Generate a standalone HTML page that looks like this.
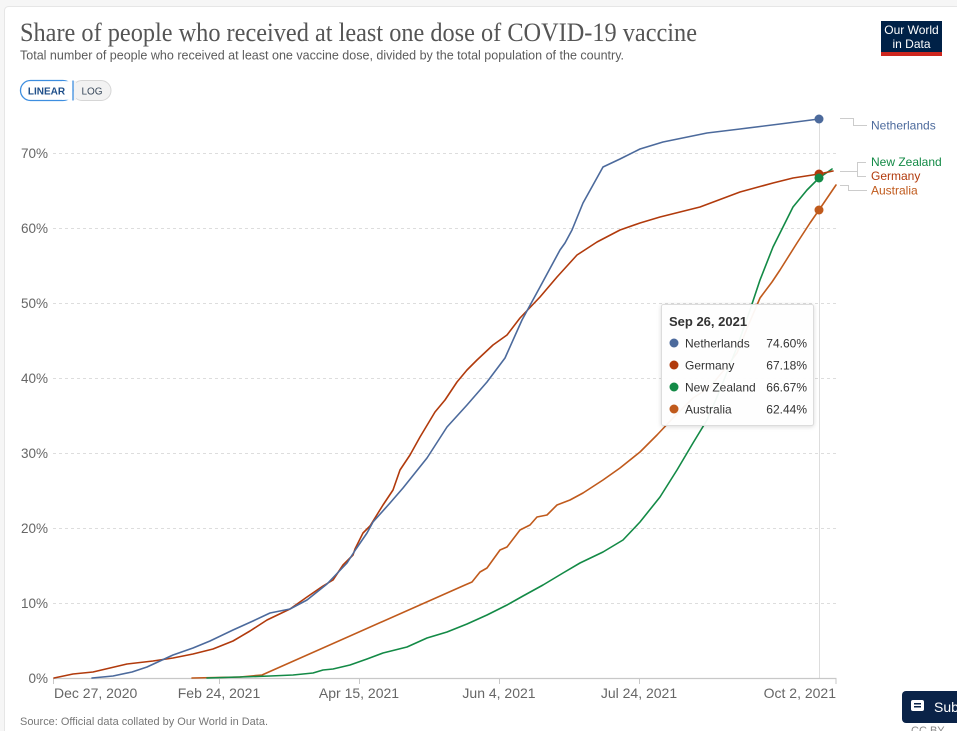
<!DOCTYPE html>
<html>
<head>
<meta charset="utf-8">
<style>
  html, body { margin:0; padding:0; background:#f6f6f6; }
  body { width:957px; height:731px; overflow:hidden; position:relative; }
  svg { position:absolute; left:0; top:0; }
  text { font-family:"Liberation Sans", sans-serif; }
</style>
</head>
<body>
<svg width="957" height="731" viewBox="0 0 957 731" xmlns="http://www.w3.org/2000/svg">
  <!-- card -->
  <rect x="0" y="0" width="957" height="731" fill="#f6f6f6"/>
  <rect x="4.5" y="6.5" width="960" height="730" rx="4" fill="#ffffff" stroke="#e6e6e6"/>

  <!-- title -->
  <text x="20" y="41" font-family="Liberation Serif, serif" font-size="26" fill="#555" textLength="677" lengthAdjust="spacingAndGlyphs" style="font-family:'Liberation Serif',serif">Share of people who received at least one dose of COVID-19 vaccine</text>
  <text x="20" y="59.5" font-size="13" fill="#5b5b5b" textLength="604" lengthAdjust="spacingAndGlyphs">Total number of people who received at least one vaccine dose, divided by the total population of the country.</text>

  <!-- linear/log toggle -->
  <rect x="72" y="80.5" width="39" height="20" rx="10" fill="#f2f2f2" stroke="#d6d6d6"/>
  <rect x="66" y="81" width="10" height="19" fill="#f2f2f2"/>
  <rect x="20.5" y="80.5" width="52.5" height="20" rx="10" fill="#ffffff" stroke="#3d8ee0" stroke-width="1.3"/>
  <rect x="62" y="81.2" width="11" height="18.6" fill="#ffffff"/>
  <line x1="73" y1="80.5" x2="73" y2="100.5" stroke="#3d8ee0" stroke-width="1.3"/>
  <text x="46.5" y="94.5" font-size="10" font-weight="bold" fill="#1d4e89" text-anchor="middle">LINEAR</text>
  <text x="92" y="94.5" font-size="10" fill="#3a4a5c" text-anchor="middle">LOG</text>

  <!-- logo -->
  <rect x="881" y="21" width="61" height="35" fill="#002147"/>
  <rect x="881" y="52" width="61" height="4" fill="#ce261e"/>
  <text x="911.5" y="34" font-size="12" fill="#ffffff" text-anchor="middle">Our World</text>
  <text x="911.5" y="48" font-size="12" fill="#ffffff" text-anchor="middle">in Data</text>

  <!-- gridlines -->
  <g stroke="#dddddd" stroke-width="1" stroke-dasharray="3,3">
    <line x1="53" y1="153.5" x2="836" y2="153.5"/>
    <line x1="53" y1="228.5" x2="836" y2="228.5"/>
    <line x1="53" y1="303.5" x2="836" y2="303.5"/>
    <line x1="53" y1="378.5" x2="836" y2="378.5"/>
    <line x1="53" y1="453.5" x2="836" y2="453.5"/>
    <line x1="53" y1="528.5" x2="836" y2="528.5"/>
    <line x1="53" y1="603.5" x2="836" y2="603.5"/>
  </g>

  <!-- y labels -->
  <g font-size="13.5" fill="#666" text-anchor="end">
    <text x="48" y="158">70%</text>
    <text x="48" y="233">60%</text>
    <text x="48" y="308">50%</text>
    <text x="48" y="383">40%</text>
    <text x="48" y="458">30%</text>
    <text x="48" y="533">20%</text>
    <text x="48" y="608">10%</text>
    <text x="48" y="683">0%</text>
  </g>

  <!-- hover line -->
  <line x1="819.5" y1="119" x2="819.5" y2="678" stroke="#dddddd" stroke-width="1"/>

  <!-- x axis -->
  <line x1="53" y1="678.5" x2="836.5" y2="678.5" stroke="#c8c8c8" stroke-width="1.2"/>
  <g stroke="#c8c8c8" stroke-width="1">
    <line x1="53.5" y1="678" x2="53.5" y2="684"/>
    <line x1="219.5" y1="678" x2="219.5" y2="684"/>
    <line x1="359.5" y1="678" x2="359.5" y2="684"/>
    <line x1="499.5" y1="678" x2="499.5" y2="684"/>
    <line x1="639.5" y1="678" x2="639.5" y2="684"/>
    <line x1="836" y1="678" x2="836" y2="684"/>
  </g>
  <g font-size="14" fill="#666">
    <text x="54" y="698">Dec 27, 2020</text>
    <text x="219" y="698" text-anchor="middle">Feb 24, 2021</text>
    <text x="359" y="698" text-anchor="middle">Apr 15, 2021</text>
    <text x="499" y="698" text-anchor="middle">Jun 4, 2021</text>
    <text x="639" y="698" text-anchor="middle">Jul 24, 2021</text>
    <text x="836" y="698" text-anchor="end">Oct 2, 2021</text>
  </g>

  <!-- series -->
  <g fill="none" stroke-width="1.6" stroke-linejoin="round" stroke-linecap="round">
    <!-- Australia -->
    <polyline stroke="#c05a1c" points="192,678 240,677 262,675 465,585 472,582 480,572 487,568 500,550 507,547 520,530 530,525 537,517 547,515 557,505 570,500 583,493 603,480 620,468 640,452 657,435 673,418 693,398 710,387 724,370 737,353 748,326 760,298 772,282 780,270 797,243 810,223 819,210 836,185"/>
    <!-- New Zealand -->
    <polyline stroke="#138a46" points="207,678 240,677 270,676 293,675 313,673 323,670 333,669 350,665 367,659 383,653 407,647 427,638 447,632 467,624 487,615 507,605 523,596 543,585 563,573 580,563 603,552 623,540 640,522 660,497 677,470 693,443 707,420 720,390 737,347 750,310 760,280 773,247 793,207 807,190 819,178 832,169"/>
    <!-- Germany -->
    <polyline stroke="#b13a0c" points="54,678 73,674 93,672 110,668 127,664 153,661 173,658 193,654 213,649 233,641 250,631 267,620 290,609 307,597 323,586 333,580 343,565 353,555 355,549 363,533 370,526 383,505 393,490 400,470 410,455 420,437 435,412 445,400 457,382 467,370 477,360 493,345 507,335 520,318 540,297 557,277 577,255 597,242 620,230 640,223 660,217 700,207 740,192 773,183 793,178 819,174 833,171"/>
    <!-- Netherlands -->
    <polyline stroke="#4c6a9c" points="92,678 113,676 132,672 147,667 173,655 193,648 210,641 233,630 253,621 270,613 290,609 307,600 327,584 347,563 356,549 367,533 373,522 390,503 403,488 427,458 447,427 467,405 487,382 505,358 522,320 540,287 560,250 565,243 572,230 583,203 603,167 620,159 640,149 663,142 707,133 740,129 780,124 819,119"/>
  </g>

  <!-- end dots -->
  <circle cx="819" cy="210" r="4.5" fill="#c05a1c"/>
  <circle cx="819" cy="174" r="4.5" fill="#b13a0c"/>
  <circle cx="819" cy="178" r="4.5" fill="#138a46"/>
  <circle cx="819" cy="119" r="4.5" fill="#4c6a9c"/>

  <!-- right labels connectors -->
  <g fill="none" stroke="#cccccc" stroke-width="1">
    <polyline points="840,118.5 853.5,118.5 853.5,125.5 867,125.5"/>
    <polyline points="840,171.5 857.5,171.5"/>
    <polyline points="866,162.5 857.5,162.5 857.5,176.5 866,176.5"/>
    <polyline points="840,185.5 848.5,185.5 848.5,190.5 867,190.5"/>
  </g>
  <g font-size="12">
    <text x="871" y="129.5" fill="#4c6a9c">Netherlands</text>
    <text x="871" y="166" fill="#138a46">New Zealand</text>
    <text x="871" y="180" fill="#b13a0c">Germany</text>
    <text x="871" y="194.5" fill="#c05a1c">Australia</text>
  </g>

  <!-- tooltip -->
  <rect x="661.5" y="304.5" width="152" height="121" rx="2" fill="#ffffff" fill-opacity="0.95" stroke="#dcdcdc" style="filter:drop-shadow(0 1px 2px rgba(0,0,0,0.15))"/>
  <text x="669" y="326" font-size="13" font-weight="bold" fill="#333">Sep 26, 2021</text>
  <g font-size="12" fill="#333">
    <circle cx="674" cy="343" r="4.5" fill="#4c6a9c"/>
    <text x="685" y="347.5">Netherlands</text>
    <text x="807" y="347.5" text-anchor="end">74.60%</text>
    <circle cx="674" cy="365" r="4.5" fill="#b13a0c"/>
    <text x="685" y="369.5">Germany</text>
    <text x="807" y="369.5" text-anchor="end">67.18%</text>
    <circle cx="674" cy="387" r="4.5" fill="#138a46"/>
    <text x="685" y="391.5">New Zealand</text>
    <text x="807" y="391.5" text-anchor="end">66.67%</text>
    <circle cx="674" cy="409" r="4.5" fill="#c05a1c"/>
    <text x="685" y="413.5">Australia</text>
    <text x="807" y="413.5" text-anchor="end">62.44%</text>
  </g>

  <!-- source -->
  <text x="20" y="725" font-size="11" fill="#777" textLength="248" lengthAdjust="spacingAndGlyphs">Source: Official data collated by Our World in Data.</text>

  <!-- CC BY (partially hidden) -->
  <text x="911" y="734" font-size="11" fill="#888">CC BY</text>

  <!-- subscribe button -->
  <rect x="902" y="691" width="70" height="32" rx="4" fill="#0a2348"/>
  <rect x="911" y="700" width="13" height="11" rx="2" fill="#ffffff"/>
  <rect x="914" y="703" width="7" height="1.5" fill="#0a2348"/>
  <rect x="914" y="706" width="7" height="1.5" fill="#0a2348"/>
  <text x="934" y="712" font-size="14" fill="#ffffff">Sub</text>
</svg>
</body>
</html>
